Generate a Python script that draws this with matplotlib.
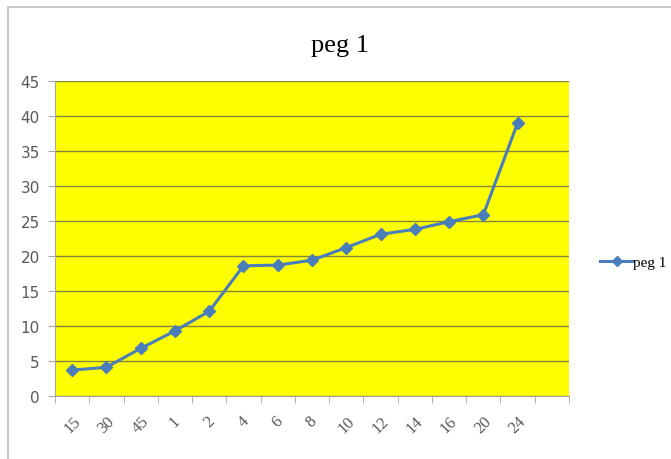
import matplotlib.pyplot as plt
from matplotlib.patches import Rectangle

# sample labels and measured values
labels = ["15", "30", "45", "1", "2", "4", "6", "8", "10", "12", "14", "16", "20", "24"]
values = [3.7, 4.1, 6.8, 9.3, 12.1, 18.6, 18.7, 19.4, 21.2, 23.1, 23.8, 24.9, 25.9, 39.0]
n_slots = 15  # one empty category slot at the end

line_color = "#4A7EBB"
grid_color = "#85853A"
tick_color = "#595959"

fig = plt.figure(figsize=(6.71, 4.60), dpi=100)
fig.patch.set_facecolor("white")

# outer chart frame
fig.patches.append(Rectangle((8 / 671, -0.1), 1.2, 1 - 8 / 460 + 0.1,
                             transform=fig.transFigure, fill=False,
                             edgecolor="#BFBFBF", linewidth=1.2))

ax = fig.add_axes([55 / 671, 63 / 460, 514 / 671, 315 / 460])
ax.set_facecolor("#FFFF00")

xs = list(range(len(values)))
ax.plot(xs, values, color=line_color, linewidth=2.2, marker="D",
        markersize=6, markerfacecolor=line_color, markeredgecolor=line_color,
        label="peg 1", zorder=3)

ax.set_xlim(-0.5, n_slots - 0.5)
ax.set_ylim(0, 45)
ax.set_yticks(range(0, 46, 5))
ax.yaxis.grid(True, color=grid_color, linewidth=1.0)
ax.set_axisbelow(True)

ax.set_xticks(xs)
ax.set_xticklabels(labels, rotation=45, ha="center", family="Liberation Serif",
                   fontsize=12, color=tick_color)
ax.set_xticks([i - 0.5 for i in range(n_slots + 1)], minor=True)
ax.tick_params(axis="x", which="major", length=0, pad=12)
ax.tick_params(axis="x", which="minor", length=5, color="#A6A6A6")
ax.tick_params(axis="y", length=5, color="#A6A6A6", labelcolor=tick_color,
               labelsize=11, pad=6)
for lab in ax.get_yticklabels():
    lab.set_family("Liberation Sans Narrow")

for side in ["top", "right"]:
    ax.spines[side].set_visible(False)
for side in ["left", "bottom"]:
    ax.spines[side].set_color("#A6A6A6")

fig.text(340 / 671, 1 - 46 / 460, "peg 1", ha="center", va="center",
         family="Liberation Serif", fontsize=19)

ax.legend(loc="center left", bbox_to_anchor=(586 / 671, 1 - 263 / 460),
          bbox_transform=fig.transFigure, frameon=False, handlelength=2.2,
          handletextpad=0.0, markerscale=0.8,
          prop={"family": "Liberation Serif", "size": 11})

fig.savefig("out.png", dpi=100)
